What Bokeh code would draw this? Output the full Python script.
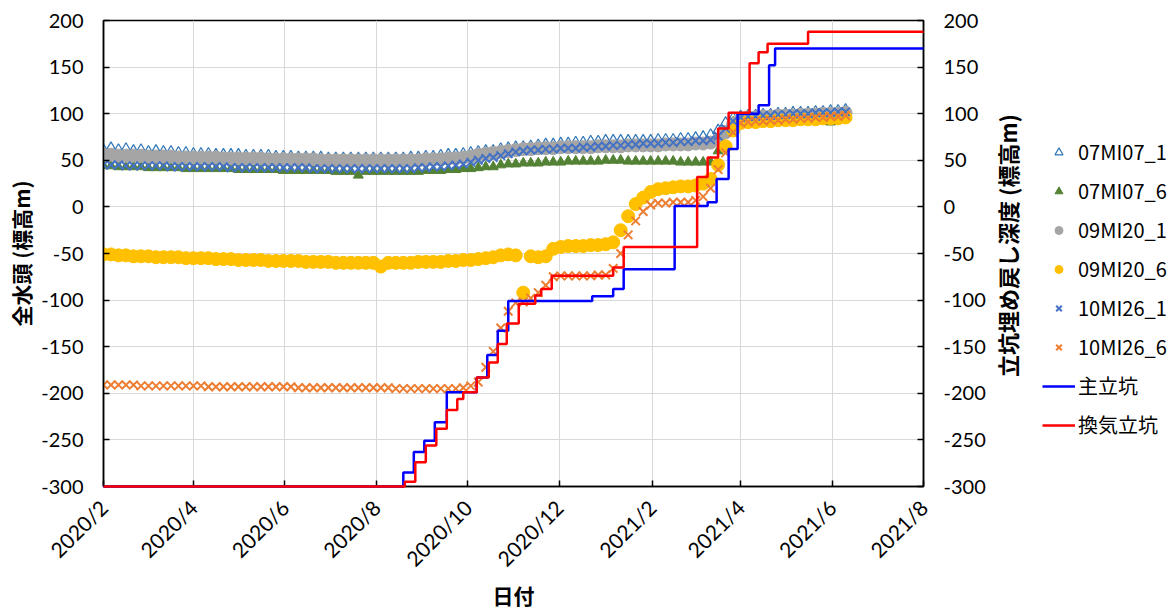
import pandas as pd
from math import pi
from bokeh.plotting import figure
from bokeh.layouts import row
from bokeh.models import Range1d, LinearAxis, FixedTicker, Legend, LegendItem, Label
from bokeh.embed import file_html
from bokeh.resources import INLINE

# ---------------- data ----------------
obs_start = "2020-02-01"
obs_dates = pd.date_range(obs_start, periods=100, freq="5D")

s07MI07_1 = [61, 63, 61, 62, 60, 61, 59, 60, 59, 59,
             58, 58, 57, 57, 57, 56, 56, 56, 56, 55,
             55, 55, 55, 54, 54, 54, 53, 53, 53, 53,
             52, 52, 52, 52, 52, 52, 52, 52, 52, 52,
             52, 53, 53, 54, 54, 55, 56, 56, 57, 58,
             59, 60, 60, 62, 63, 64, 64, 65, 66, 67,
             67, 68, 68, 69, 69, 70, 70, 71, 71, 71,
             71, 71, 71, 71, 72, 72, 72, 73, 73, 74,
             75, 77, 82, 90, 95, 97, 98, 98, 99, 99,
             100, 100, 101, 101, 101, 102, 102, 103, 103, 104]

s07MI07_6 = [44, 44, 43, 43, 43, 43, 42, 42, 42, 42,
             42, 41, 41, 41, 41, 41, 41, 41, 40, 40,
             40, 40, 40, 40, 39, 39, 39, 39, 39, 39,
             39, 38, 38, 38, 34, 38, 38, 38, 38, 38,
             38, 38, 38, 39, 39, 39, 40, 40, 41, 41,
             42, 43, 43, 45, 46, 46, 47, 47, 47, 48,
             48, 48, 49, 49, 49, 49, 49, 50, 50, 50,
             49, 49, 49, 49, 49, 49, 49, 48, 48, 48,
             48, 48, 60, 80, 91, 94, 95, 95, 96, 96,
             97, 97, 97, 98, 98, 98, 99, 91, 99, 100]

s09MI20_1 = [56, 56, 55, 55, 55, 55, 54, 54, 54, 54,
             53, 53, 53, 53, 53, 53, 52, 52, 52, 52,
             52, 52, 51, 51, 51, 51, 51, 51, 51, 50,
             50, 50, 50, 50, 50, 50, 50, 50, 50, 50,
             50, 50, 50, 51, 51, 51, 52, 52, 53, 54,
             56, 57, 58, 59, 60, 61, 62, 62, 63, 63,
             63, 64, 64, 64, 64, 64, 65, 65, 65, 65,
             66, 66, 66, 66, 66, 67, 67, 67, 67, 68,
             68, 69, 72, 80, 89, 94, 96, 96, 97, 97,
             98, 98, 98, 99, 99, 99, 100, 100, 100, 101]

s09MI20_6 = [-51, -51, -52, -52, -53, -53, -53, -54, -54, -54,
             -54, -55, -55, -55, -55, -56, -56, -56, -57, -57,
             -57, -57, -58, -58, -58, -58, -58, -59, -59, -59,
             -59, -60, -60, -60, -60, -60, -60, -64, -60, -60,
             -60, -60, -59, -59, -59, -59, -58, -58, -57, -57,
             -56, -55, -54, -52, -51, -52, -92, -53, -54, -53,
             -45, -43, -42, -42, -42, -41, -41, -40, -38, -25,
             -10, 3, 10, 16, 19, 20, 21, 22, 22, 23,
             25, 30, 45, 65, 82, 90, 91, 91, 92, 92,
             93, 93, 93, 94, 94, 94, 95, 95, 95, 96]

s10MI26_1 = [45, 45, 45, 44, 44, 44, 44, 44, 44, 43,
             43, 43, 43, 43, 43, 43, 43, 42, 42, 42,
             42, 42, 42, 42, 42, 42, 42, 42, 41, 41,
             41, 41, 41, 41, 41, 41, 41, 41, 41, 41,
             41, 41, 42, 42, 43, 43, 44, 45, 46, 48,
             50, 52, 53, 55, 57, 59, 60, 61, 61, 62,
             62, 63, 63, 63, 64, 64, 65, 65, 66, 66,
             67, 67, 68, 68, 68, 69, 69, 70, 70, 71,
             71, 72, 76, 84, 92, 96, 97, 97, 98, 98,
             99, 99, 100, 100, 100, 101, 101, 101, 102, 102]

s10MI26_6 = [-191, -191, -191, -191, -191, -192, -192, -192, -192, -192,
             -192, -192, -192, -192, -193, -193, -193, -193, -193, -193,
             -193, -193, -193, -193, -193, -193, -194, -194, -194, -194,
             -194, -194, -194, -194, -194, -194, -194, -194, -194, -195,
             -195, -195, -195, -195, -195, -195, -195, -195, -194, -192,
             -188, -172, -155, -130, -112, -103, -102, -98, -92, -84,
             -75, -74, -74, -74, -74, -74, -73, -73, -66, -50,
             -30, -15, -5, 2, 4, 4, 5, 5, 5, 7,
             11, 20, 40, 58, 80, 90, 91, 92, 92, 93,
             93, 94, 94, 95, 95, 96, 96, 97, 97, 98]

main_dates = ["2020-02-01", "2020-08-19", "2020-08-26", "2020-09-02", "2020-09-09",
              "2020-09-17", "2020-10-07", "2020-10-14", "2020-10-21", "2020-10-28",
              "2020-12-23", "2021-01-06", "2021-01-13", "2021-02-16", "2021-03-10",
              "2021-03-16", "2021-03-24", "2021-03-30", "2021-04-13", "2021-04-20",
              "2021-04-24", "2021-08-01"]
main_vals = [-300, -285, -263, -251, -231,
             -199, -183, -159, -133, -101,
             -96, -88, -67, 1, 5,
             30, 62, 100, 109, 152,
             170, 170]

vent_dates = ["2020-02-01", "2020-08-20", "2020-08-27", "2020-09-03", "2020-09-10",
              "2020-09-17", "2020-09-24", "2020-09-28", "2020-10-07", "2020-10-15",
              "2020-10-21", "2020-10-27", "2020-11-04", "2020-11-15", "2020-11-19",
              "2020-11-26", "2021-01-06", "2021-01-13", "2021-03-03", "2021-03-10",
              "2021-03-17", "2021-03-24", "2021-04-07", "2021-04-13", "2021-04-19",
              "2021-05-16", "2021-08-01"]
vent_vals = [-300, -295, -274, -256, -238,
             -218, -206, -199, -183, -167,
             -147, -125, -104, -95, -88,
             -74, -65, -43, 32, 53,
             84, 101, 154, 166, 175,
             188, 188]

x_tick_dates = ["2020-02-01", "2020-04-01", "2020-06-01", "2020-08-01", "2020-10-01",
                "2020-12-01", "2021-02-01", "2021-04-01", "2021-06-01", "2021-08-01"]
x_tick_labels = ["2020/2", "2020/4", "2020/6", "2020/8", "2020/10",
                 "2020/12", "2021/2", "2021/4", "2021/6", "2021/8"]
y_ticks = [-300, -250, -200, -150, -100, -50, 0, 50, 100, 150, 200]
y_tick_labels = ["-300", "-250", "-200", "-150", "-100", "-50", "0", "50", "100", "150", "200"]

series_names = ["07MI07_1", "07MI07_6", "09MI20_1", "09MI20_6", "10MI26_1", "10MI26_6"]
shaft_names = ["主立坑", "換気立坑"]

# ---------------- styles ----------------
JP = "Noto Sans CJK JP"
NUM = "Lato"
styles = [
    dict(marker="triangle", size=11, fill_color=None, line_color="#2E75B6", line_width=1.2),
    dict(marker="triangle", size=10, fill_color="#548235", line_color="#548235"),
    dict(marker="circle", size=13, fill_color="#A5A5A5", line_color="#A5A5A5"),
    dict(marker="circle", size=13, fill_color="#FFC000", line_color="#FFC000"),
    dict(marker="x", size=12, line_color="#4472C4", line_width=2),
    dict(marker="x", size=12, line_color="#ED7D31", line_width=2),
]
line_styles = [dict(line_color="#0000FF", line_width=2.5),
               dict(line_color="#FF0000", line_width=2.5)]


def ms(d):
    return pd.Timestamp(d).value / 1e6


# ---------------- main figure ----------------
p = figure(width=990, height=612, x_axis_type="datetime",
           output_backend="svg", toolbar_location=None,
           x_range=Range1d(ms(x_tick_dates[0]), ms(x_tick_dates[-1])),
           y_range=Range1d(-300, 200),
           min_border_left=103, min_border_right=67,
           min_border_top=20, min_border_bottom=126)
p.background_fill_color = "white"
p.border_fill_color = "white"
p.outline_line_color = "black"
p.outline_line_width = 1.5

p.extra_y_ranges = {"r": Range1d(-300, 200)}
ax_r = LinearAxis(y_range_name="r")
p.add_layout(ax_r, "right")
ax_l = p.left[0]
ax_b = p.below[0]

tick_ms = [ms(d) for d in x_tick_dates]
ax_b.ticker = FixedTicker(ticks=tick_ms)
ax_b.major_label_overrides = {t: lab for t, lab in zip(tick_ms, x_tick_labels)}
ax_b.major_label_orientation = pi / 4
for ax in [ax_l, ax_r]:
    ax.ticker = FixedTicker(ticks=y_ticks)
    ax.major_label_overrides = {t: lab for t, lab in zip(y_ticks, y_tick_labels)}

for ax in [ax_b, ax_l, ax_r]:
    ax.axis_line_color = "black"
    ax.axis_line_width = 1.5
    ax.major_tick_in = 6
    ax.major_tick_out = 0
    ax.major_tick_line_color = "black"
    ax.major_tick_line_width = 1.5
    ax.minor_tick_line_color = None
    ax.major_label_text_font = NUM
    ax.major_label_text_font_size = "20px"
    ax.major_label_text_color = "black"
    ax.major_label_standoff = 20

ax_b.major_label_text_font_size = "21px"
ax_b.major_label_standoff = 17
ax_b.axis_label = "日付"
ax_l.axis_label = "全水頭 (標高m)"
for ax in [ax_b, ax_l]:
    ax.axis_label_text_font = JP
    ax.axis_label_text_font_style = "bold"
    ax.axis_label_text_font_size = "21px"
    ax.axis_label_text_color = "black"
ax_l.axis_label_standoff = 2
ax_b.axis_label_standoff = -3

p.xgrid.grid_line_color = "#D9D9D9"
p.ygrid.grid_line_color = "#D9D9D9"

series_vals = [s07MI07_1, s07MI07_6, s09MI20_1, s09MI20_6, s10MI26_1, s10MI26_6]
for vals, st in zip(series_vals, styles):
    p.scatter(obs_dates, vals, **st)
p.step(pd.to_datetime(main_dates), main_vals, mode="after", level="overlay", **line_styles[0])
p.step(pd.to_datetime(vent_dates), vent_vals, mode="after", level="overlay", **line_styles[1])

# ---------------- side panel: right axis title + legend ----------------
s = figure(width=186, height=612, output_backend="svg", toolbar_location=None,
           x_axis_type=None, y_axis_type=None,
           x_range=Range1d(0, 1), y_range=Range1d(0, 1),
           min_border=0, min_border_left=0, min_border_right=0,
           min_border_top=0, min_border_bottom=0)
s.outline_line_color = None
s.background_fill_color = "white"
s.border_fill_color = "white"
s.grid.visible = False

# legend proxies: one point each, placed outside the side panel's visible range
proxy_x = [-5]
proxy_y = [-5]
items = []
for name, st in zip(series_names, styles):
    r = s.scatter(x=proxy_x, y=proxy_y, **st)
    items.append(LegendItem(label=name, renderers=[r]))
for name, st in zip(shaft_names, line_styles):
    r = s.line(x=proxy_x * 2, y=proxy_y * 2, **st)
    items.append(LegendItem(label=name, renderers=[r]))

legend = Legend(items=items, location=(52, 47))
legend.border_line_color = None
legend.background_fill_alpha = 0
legend.padding = 0
legend.margin = 0
legend.spacing = 10
legend.glyph_width = 33
legend.glyph_height = 20
legend.label_standoff = 3
legend.label_text_font = JP
legend.label_text_font_size = "20px"
legend.label_text_color = "black"
s.add_layout(legend, "center")

s.add_layout(Label(x=16, y=241, x_units="screen", y_units="screen",
                   text="立坑埋め戻し深度 (標高m)", angle=pi / 2,
                   text_align="center", text_baseline="middle",
                   text_font=JP, text_font_style="bold",
                   text_font_size="22px", text_color="black"))

layout = row(p, s, spacing=0)
open("out.html", "w", encoding="utf-8").write(file_html(layout, INLINE))
